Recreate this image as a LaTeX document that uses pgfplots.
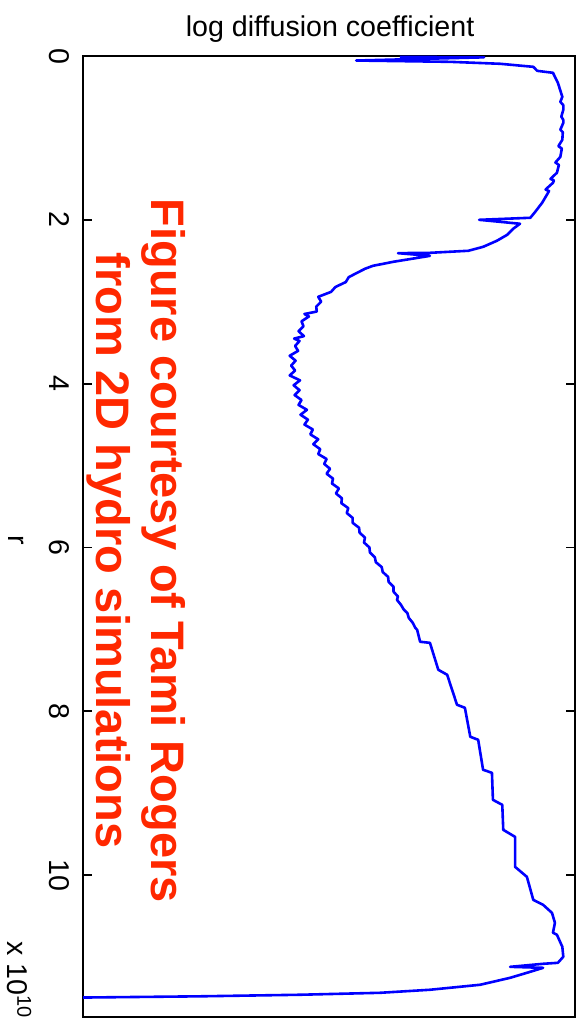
\documentclass[border=0pt]{standalone}
\usepackage{fontspec}
\setmainfont{Liberation Sans}
\usepackage{pgfplots}
\pgfplotsset{compat=1.18}
\definecolor{courtesy}{RGB}{255,40,0}
\begin{document}
\begin{tikzpicture}
\begin{axis}[
  name=ax,
  scale only axis, width=246pt, height=480.25pt,
  xmin=0, xmax=10, ymin=0, ymax=11.73, y dir=reverse,
  xtick=\empty,
  ytick={0,2,4,6,8,10},
  tick align=inside, major tick length=4.5pt,
  axis line style={line width=1.1pt},
  every tick/.style={black, line width=0.9pt},
  yticklabel style={rotate=-90, anchor=north, inner xsep=0pt, inner ysep=6.5pt,
    font=\fontsize{14.3}{17}\selectfont, /pgf/number format/assume math mode=true},
  clip=false,
]
\addplot[blue, line width=1.3pt, line join=round] coordinates {
(6.44,0.010) (8.15,0.016) (5.55,0.055) (7.46,0.071) (8.48,0.095) (9.15,0.132)
(9.23,0.181) (9.55,0.205) (9.65,0.327) (9.74,0.498) (9.70,0.56) (9.76,0.60)
(9.76,0.657) (9.72,0.74) (9.76,0.78) (9.76,0.816) (9.70,0.90) (9.75,0.93)
(9.74,1.023) (9.66,1.10) (9.73,1.13) (9.70,1.231) (9.60,1.30) (9.67,1.33)
(9.63,1.426) (9.50,1.50) (9.57,1.52) (9.55,1.548) (9.40,1.63) (9.47,1.65)
(9.45,1.670) (9.33,1.792) (9.19,1.902) (9.09,1.975) (8.05,2.000) (8.88,2.048)
(8.74,2.110) (8.62,2.183) (8.41,2.256) (8.13,2.330) (7.83,2.378) (7.05,2.403)
(6.40,2.407) (7.05,2.440) (6.30,2.513) (5.89,2.562) (5.73,2.598) (5.57,2.647)
(5.40,2.70) (5.34,2.76) (5.13,2.82) (5.04,2.88) (4.78,2.94) (4.84,3.00)
(4.74,3.06) (4.75,3.12) (4.50,3.15) (4.59,3.18) (4.44,3.24) (4.48,3.30)
(4.38,3.36) (4.49,3.42) (4.29,3.45) (4.40,3.48) (4.31,3.54) (4.37,3.60)
(4.20,3.66) (4.32,3.72) (4.23,3.78) (4.31,3.84) (4.20,3.90) (4.41,3.96)
(4.28,4.02) (4.40,4.08) (4.30,4.14) (4.44,4.20) (4.38,4.26) (4.55,4.32)
(4.42,4.38) (4.57,4.44) (4.50,4.50) (4.67,4.56) (4.62,4.62) (4.78,4.68)
(4.68,4.74) (4.82,4.80) (4.78,4.86) (4.95,4.92) (4.90,4.98) (5.02,5.04)
(4.95,5.10) (5.08,5.16) (5.06,5.22) (5.20,5.28) (5.14,5.34) (5.26,5.40)
(5.25,5.46) (5.39,5.52) (5.36,5.58) (5.48,5.64) (5.48,5.70) (5.61,5.76)
(5.62,5.82) (5.73,5.88) (5.71,5.94) (5.82,6.00) (5.83,6.06) (5.93,6.12)
(5.95,6.18) (6.07,6.24) (6.09,6.30) (6.20,6.36) (6.21,6.42) (6.31,6.48)
(6.31,6.54) (6.40,6.60) (6.38,6.64) (6.46,6.70) (6.52,6.76) (6.59,6.80)
(6.62,6.86) (6.70,6.92) (6.75,6.98) (6.79,7.006) (6.85,7.152) (7.05,7.165)
(7.22,7.494) (7.40,7.555) (7.60,7.921) (7.76,7.958) (7.87,8.312) (8.03,8.349)
(8.13,8.715) (8.31,8.752) (8.33,9.082) (8.52,9.143) (8.54,9.448) (8.78,9.534)
(8.78,9.900) (9.02,10.022) (9.15,10.303) (9.35,10.364) (9.53,10.462) (9.59,10.583)
(9.55,10.705) (9.63,10.729) (9.74,10.876) (9.76,10.998) (9.65,11.072) (9.35,11.084)
(8.68,11.121) (9.35,11.133) (9.02,11.194) (8.68,11.255) (8.07,11.340) (7.05,11.401)
(6.04,11.438) (4.41,11.462) (2.38,11.481) (0.00,11.496)
};
\node[font=\fontsize{14.3}{17}\selectfont, anchor=center] at (axis cs:5.02,-0.33) {log diffusion coefficient};
\node[font=\fontsize{14.3}{17}\selectfont, rotate=-90, anchor=center] at (axis cs:-1.36,5.91) {r};
\node[font=\fontsize{14.3}{17}\selectfont, rotate=-90, anchor=north, inner sep=0pt] at (axis cs:-1.04,11.28) {x 10\textsuperscript{10}};
\node[font=\bfseries\fontsize{23.5}{27.5}\selectfont, text=courtesy, rotate=-90, anchor=north, inner sep=0pt, align=center] at (axis cs:2.09,6.04) {Figure courtesy of Tami Rogers\\from 2D hydro simulations};
\end{axis}
\pgfresetboundingbox
\path ([shift={(-41.5pt,-6.15pt)}]ax.south west) rectangle ([shift={(5.5pt,28pt)}]ax.north east);
\end{tikzpicture}
\end{document}
